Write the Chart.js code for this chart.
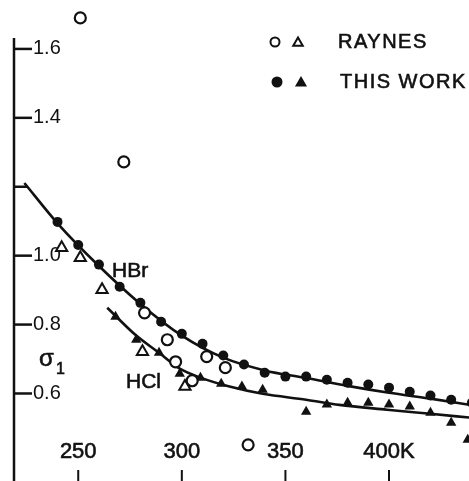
<!DOCTYPE html>
<html>
<head>
<meta charset="utf-8">
<script src="https://cdn.jsdelivr.net/npm/chart.js@4.4.0/dist/chart.umd.min.js"></script>
<style>
  body { margin: 0; background: #fff; }
  canvas { display: block; }
</style>
</head>
<body>
<canvas id="chartContainer" width="469" height="481"></canvas>
<script>
// temperatures in K, sigma_1

// this work, HBr (filled circles)
const hbrT = [240, 250, 260, 270, 280, 290, 300, 310, 320, 330, 340, 350, 360, 370, 380, 390, 400, 410, 420, 430, 440];
const hbrSigma = [1.098, 1.031, 0.974, 0.910, 0.863, 0.808, 0.773, 0.744, 0.710, 0.684, 0.660, 0.649, 0.649, 0.640, 0.631, 0.626, 0.617, 0.605, 0.594, 0.582, 0.573];

// this work, HCl (filled triangles)
const hclT = [268, 278, 289, 299, 309, 319, 329, 339, 360, 370, 380, 390, 400, 410, 420, 430, 438];
const hclSigma = [0.823, 0.756, 0.718, 0.657, 0.646, 0.628, 0.620, 0.611, 0.547, 0.568, 0.573, 0.573, 0.568, 0.562, 0.544, 0.515, 0.466];

// Raynes (open circles / open triangles)
const raynesCircT = [251, 272, 282, 293, 297, 305, 312, 321, 332];
const raynesCircSigma = [1.690, 1.272, 0.834, 0.756, 0.692, 0.637, 0.707, 0.675, 0.451];
const raynesTriT = [242, 251, 261.5, 281, 301.5];
const raynesTriSigma = [1.023, 0.994, 0.901, 0.721, 0.620];

// fitted curves
const hbrFitT = [224, 240, 260, 280, 300, 320, 340, 360, 380, 400, 420, 440];
const hbrFitSigma = [1.211, 1.094, 0.970, 0.860, 0.768, 0.704, 0.667, 0.645, 0.622, 0.602, 0.585, 0.566];
const hclFitT = [264, 278, 289, 299, 309, 323, 339, 360, 376, 399, 420, 439];
const hclFitSigma = [0.849, 0.768, 0.718, 0.672, 0.646, 0.620, 0.599, 0.582, 0.567, 0.553, 0.541, 0.530];

// axes
const xTicks = [250, 300, 350, 400];
const xTickLabels = ['250', '300', '350', '400K'];
const yTicks = [0.6, 0.8, 1.0, 1.2, 1.4, 1.6];
const yTickLabels = ['0.6', '0.8', '1.0', '', '1.4', '1.6'];

const ink = '#111';
const font = '"Liberation Sans", Arial, sans-serif';
Chart.defaults.font.family = font;
Chart.defaults.color = ink;

function pts(xs, ys) {
  return xs.map((x, i) => ({ x: x, y: ys[i] }));
}

// print-like text: fill plus a thin stroke
function inkText(ctx, text, x, y) {
  ctx.fillText(text, x, y);
  ctx.strokeText(text, x, y);
}

// axis line, ticks, x labels, curve names, axis symbol and the legend
const decorations = {
  id: 'decorations',
  afterDraw(chart) {
    const ctx = chart.ctx;
    const xs = chart.scales.x, ys = chart.scales.y;
    const area = chart.chartArea;
    ctx.save();
    ctx.strokeStyle = ink;
    ctx.fillStyle = ink;

    // y axis line (starts a little below the top of the frame)
    ctx.lineWidth = 2.5;
    ctx.beginPath();
    ctx.moveTo(area.left, 38);
    ctx.lineTo(area.left, area.bottom);
    ctx.stroke();

    // inward ticks on the y axis
    yTicks.forEach((v, i) => {
      const py = ys.getPixelForValue(v);
      ctx.beginPath();
      ctx.moveTo(area.left, py);
      ctx.lineTo(area.left + (yTickLabels[i] ? 18 : 13), py);
      ctx.stroke();
    });

    // x ticks at the bottom
    ctx.lineWidth = 2;
    xTicks.forEach((t) => {
      const px = xs.getPixelForValue(t);
      ctx.beginPath();
      ctx.moveTo(px, area.bottom - 11);
      ctx.lineTo(px, area.bottom);
      ctx.stroke();
    });

    // x labels above the ticks
    ctx.lineWidth = 0.6;
    ctx.font = '22px ' + font;
    ctx.textAlign = 'center';
    ctx.textBaseline = 'alphabetic';
    xTicks.forEach((t, i) => {
      inkText(ctx, xTickLabels[i], xs.getPixelForValue(t), 458);
    });

    // curve names
    ctx.textAlign = 'left';
    ctx.font = '21px ' + font;
    inkText(ctx, 'HBr', 112, 277);
    inkText(ctx, 'HCl', 126, 388);

    // sigma_1
    ctx.font = '24px ' + font;
    inkText(ctx, 'σ', 39, 366);
    ctx.font = '16px ' + font;
    inkText(ctx, '1', 56, 374);

    // legend
    ctx.lineWidth = 2;
    ctx.fillStyle = '#fff';
    Chart.helpers.drawPoint(ctx, { pointStyle: 'circle', radius: 4.5, rotation: 0, borderWidth: 2 }, 275, 42);
    Chart.helpers.drawPoint(ctx, { pointStyle: 'triangle', radius: 5.5, rotation: 0, borderWidth: 2 }, 298, 43);
    ctx.fillStyle = ink;
    Chart.helpers.drawPoint(ctx, { pointStyle: 'circle', radius: 4.5, rotation: 0, borderWidth: 1 }, 277, 82);
    Chart.helpers.drawPoint(ctx, { pointStyle: 'triangle', radius: 5, rotation: 0, borderWidth: 1 }, 301, 83);

    ctx.lineWidth = 0.6;
    ctx.font = '20px ' + font;
    ctx.letterSpacing = '1.5px';
    ctx.textBaseline = 'middle';
    inkText(ctx, 'RAYNES', 338, 42);
    inkText(ctx, 'THIS WORK', 340, 82);
    ctx.restore();
  }
};

const chart = new Chart(document.getElementById('chartContainer').getContext('2d'), {
  type: 'scatter',
  data: {
    datasets: [
      {
        label: 'Raynes, circles',
        data: pts(raynesCircT, raynesCircSigma),
        pointStyle: 'circle',
        pointRadius: 5.5,
        pointBorderWidth: 2.2,
        pointBackgroundColor: '#fff',
        pointBorderColor: ink,
        clip: false,
        order: 1
      },
      {
        label: 'Raynes, triangles',
        data: pts(raynesTriT, raynesTriSigma),
        pointStyle: 'triangle',
        pointRadius: 6.5,
        pointBorderWidth: 2,
        pointBackgroundColor: '#fff',
        pointBorderColor: ink,
        clip: false,
        order: 1
      },
      {
        label: 'HBr, this work',
        data: pts(hbrT, hbrSigma),
        pointStyle: 'circle',
        pointRadius: 5,
        pointBorderWidth: 0,
        pointBackgroundColor: ink,
        clip: false,
        order: 2
      },
      {
        label: 'HCl, this work',
        data: pts(hclT, hclSigma),
        pointStyle: 'triangle',
        pointRadius: 6,
        pointBorderWidth: 0,
        pointBackgroundColor: ink,
        clip: false,
        order: 2
      },
      {
        label: 'HBr fit',
        data: pts(hbrFitT, hbrFitSigma),
        showLine: true,
        pointRadius: 0,
        borderColor: ink,
        borderWidth: 2.6,
        cubicInterpolationMode: 'monotone',
        clip: false,
        order: 5
      },
      {
        label: 'HCl fit',
        data: pts(hclFitT, hclFitSigma),
        showLine: true,
        pointRadius: 0,
        borderColor: ink,
        borderWidth: 2.6,
        cubicInterpolationMode: 'monotone',
        clip: false,
        order: 5
      }
    ]
  },
  options: {
    responsive: false,
    animation: false,
    layout: { autoPadding: false, padding: { left: 14, top: 0, right: 0, bottom: 0 } },
    plugins: {
      legend: { display: false },
      tooltip: { enabled: false }
    },
    scales: {
      x: {
        type: 'linear',
        display: false,
        min: 219,
        max: 438.6
      },
      y: {
        type: 'linear',
        position: 'left',
        min: 0.346,
        max: 1.742,
        afterFit: (scale) => {
          scale.width = 0;
          scale.paddingTop = 0;
          scale.paddingBottom = 0;
        },
        afterBuildTicks: (scale) => { scale.ticks = yTicks.map(v => ({ value: v })); },
        grid: { display: false, drawTicks: false },
        border: { display: false },
        ticks: {
          mirror: true,
          padding: 19,
          color: ink,
          font: { size: 20 },
          callback: (value) => yTickLabels[yTicks.indexOf(value)]
        }
      }
    }
  },
  plugins: [decorations]
});
</script>
</body>
</html>
